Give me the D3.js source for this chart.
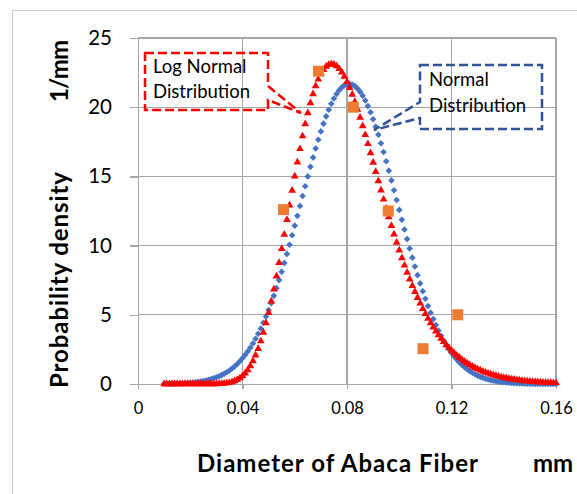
<!DOCTYPE html>
<html lang="en">
<head>
    <meta charset="UTF-8"/>
    <title>Abaca fiber diameter - probability density</title>
    <script src="https://d3js.org/d3.v7.min.js"></script>

    <style>
        body {
            margin: 0;
            background: #fff;
        }
        text {
            font-family: Lato, "Liberation Sans", sans-serif;
            fill: #000;
        }
        .grid line {
            stroke: #a6a6a6;
            stroke-width: 1.3px;
            shape-rendering: crispEdges;
        }
        .axis path,
        .axis line {
            stroke: #a6a6a6;
            stroke-width: 1.3px;
            shape-rendering: crispEdges;
        }
        .title {
            font-size: 24px;
            font-weight: bold;
        }
    </style>
</head>
<body>

<div id="chart"></div>

<script>
    // diameters (mm) where both fitted curves were sampled
    const diameters = d3.range(10, 161).map(function(k) { return k / 1000; });

    // normal distribution fit
    const normalDensity = [
        0.013, 0.016, 0.020, 0.024, 0.030, 0.036, 0.044, 0.053, 0.064, 0.077,
        0.092, 0.110, 0.131, 0.156, 0.185, 0.218, 0.257, 0.302, 0.353, 0.412,
        0.480, 0.557, 0.644, 0.743, 0.854, 0.979, 1.119, 1.276, 1.450, 1.643,
        1.856, 2.091, 2.348, 2.628, 2.934, 3.265, 3.627, 4.013, 4.427, 4.871,
        5.342, 5.843, 6.370, 6.927, 7.506, 8.113, 8.744, 9.392, 10.06, 10.75,
        11.44, 12.15, 12.86, 13.58, 14.29, 15.00, 15.69, 16.37, 17.02, 17.65,
        18.25, 18.81, 19.34, 19.82, 20.25, 20.63, 20.95, 21.22, 21.43, 21.58,
        21.66, 21.68, 21.63, 21.53, 21.35, 21.12, 20.83, 20.48, 20.08, 19.63,
        19.13, 18.59, 18.01, 17.40, 16.76, 16.10, 15.41, 14.71, 14.00, 13.29,
        12.58, 11.87, 11.16, 10.47, 9.791, 9.130, 8.485, 7.865, 7.269, 6.699,
        6.155, 5.639, 5.149, 4.689, 4.258, 3.855, 3.478, 3.131, 2.808, 2.513,
        2.242, 1.993, 1.768, 1.563, 1.378, 1.211, 1.061, 0.927, 0.808, 0.702,
        0.608, 0.525, 0.452, 0.388, 0.332, 0.283, 0.241, 0.204, 0.173, 0.146,
        0.123, 0.103, 0.086, 0.072, 0.059, 0.049, 0.041, 0.034, 0.028, 0.023,
        0.018, 0.015, 0.012, 0.010, 0.008, 0.006, 0.005, 0.004, 0.003, 0.003,
        0.002
    ];

    // log normal distribution fit
    const logNormalDensity = [
        0.000, 0.000, 0.000, 0.000, 0.000, 0.000, 0.000, 0.000, 0.000, 0.000,
        0.000, 0.000, 0.000, 0.000, 0.000, 0.000, 0.001, 0.001, 0.002, 0.005,
        0.008, 0.015, 0.025, 0.041, 0.064, 0.099, 0.147, 0.215, 0.306, 0.425,
        0.579, 0.774, 1.015, 1.308, 1.659, 2.072, 2.548, 3.097, 3.715, 4.401,
        5.153, 5.973, 6.850, 7.782, 8.759, 9.766, 10.81, 11.87, 12.92, 13.98,
        15.01, 16.02, 16.99, 17.91, 18.78, 19.58, 20.31, 20.96, 21.53, 22.01,
        22.41, 22.71, 22.94, 23.07, 23.12, 23.08, 22.98, 22.78, 22.53, 22.22,
        21.84, 21.40, 20.92, 20.40, 19.84, 19.25, 18.64, 18.00, 17.35, 16.69,
        16.01, 15.34, 14.67, 14.00, 13.34, 12.69, 12.06, 11.43, 10.82, 10.23,
        9.658, 9.107, 8.573, 8.064, 7.574, 7.105, 6.660, 6.235, 5.827, 5.443,
        5.079, 4.734, 4.409, 4.102, 3.815, 3.543, 3.288, 3.049, 2.825, 2.618,
        2.422, 2.238, 2.070, 1.910, 1.762, 1.626, 1.499, 1.381, 1.271, 1.169,
        1.076, 0.989, 0.909, 0.835, 0.767, 0.703, 0.644, 0.591, 0.542, 0.496,
        0.455, 0.416, 0.381, 0.348, 0.318, 0.291, 0.266, 0.243, 0.222, 0.203,
        0.185, 0.169, 0.154, 0.141, 0.128, 0.117, 0.107, 0.097, 0.089, 0.081,
        0.073
    ];

    // measured histogram (orange squares)
    const measuredDiameters = [0.0557, 0.0691, 0.0824, 0.0958, 0.1091, 0.1224];
    const measuredDensity = [12.6, 22.6, 20.0, 12.5, 2.55, 5.0];

    const xTicks = [0, 0.04, 0.08, 0.12, 0.16];
    const xTickLabels = ["0", "0.04", "0.08", "0.12", "0.16"];
    const yTicks = [0, 5, 10, 15, 20, 25];

    const margin = {top: 38, right: 21, bottom: 110, left: 138};
    const width = 577 - margin.left - margin.right;
    const height = 494 - margin.top - margin.bottom;

    const svg = d3.select("#chart")
        .append("svg")
        .attr("width", 577)
        .attr("height", 494);

    // chart area border
    svg.append("rect")
        .attr("x", 12.5).attr("y", 10.5)
        .attr("width", 620).attr("height", 520)
        .attr("fill", "none")
        .attr("stroke", "#c8c8c8");

    const g = svg.append("g")
        .attr("transform", "translate(" + margin.left + "," + margin.top + ")");

    const x = d3.scaleLinear().domain([0, 0.16]).range([0, width]);
    const y = d3.scaleLinear().domain([0, 25]).range([height, 0]);

    // gridlines
    const grid = g.append("g").attr("class", "grid");
    grid.selectAll(".h").data(yTicks.slice(1)).join("line")
        .attr("x1", 0).attr("x2", width)
        .attr("y1", function(d) { return y(d); })
        .attr("y2", function(d) { return y(d); });
    grid.selectAll(".v").data(xTicks.slice(1)).join("line")
        .attr("y1", 0).attr("y2", height)
        .attr("x1", function(d) { return x(d); })
        .attr("x2", function(d) { return x(d); });

    // X axis
    const xAxis = g.append("g")
        .attr("class", "axis")
        .attr("transform", "translate(0," + height + ")")
        .call(d3.axisBottom(x)
            .tickValues(xTicks)
            .tickFormat(function(d, i) { return xTickLabels[i]; })
            .tickSize(5)
            .tickSizeOuter(0)
            .tickPadding(13));
    xAxis.selectAll("text")
        .style("font-size", "16.5px");

    // Y axis
    const yAxis = g.append("g")
        .attr("class", "axis")
        .call(d3.axisLeft(y)
            .tickValues(yTicks)
            .tickSize(8)
            .tickSizeOuter(0)
            .tickPadding(18));
    yAxis.selectAll("text")
        .style("font-size", "20.5px");
    xAxis.attr("font-family", null);
    yAxis.attr("font-family", null);

    // normal distribution - blue diamonds
    const diamond = "M0,-3.3L3.3,0L0,3.3L-3.3,0Z";
    g.selectAll(".normal").data(diameters).join("path")
        .attr("class", "normal")
        .attr("d", diamond)
        .attr("transform", function(d, i) {
            return "translate(" + x(d) + "," + y(normalDensity[i]) + ")";
        })
        .attr("fill", "#4472c4");

    // log normal distribution - red triangles
    const triangle = d3.symbol().type(d3.symbolTriangle).size(26);
    g.selectAll(".lognormal").data(diameters).join("path")
        .attr("class", "lognormal")
        .attr("d", triangle)
        .attr("transform", function(d, i) {
            return "translate(" + x(d) + "," + y(logNormalDensity[i]) + ")";
        })
        .attr("fill", "#ff0000");

    // measured values - orange squares
    g.selectAll(".measured").data(measuredDiameters).join("rect")
        .attr("class", "measured")
        .attr("x", function(d) { return x(d) - 5.5; })
        .attr("y", function(d, i) { return y(measuredDensity[i]) - 5.5; })
        .attr("width", 11).attr("height", 11)
        .attr("fill", "#ed7d31");

    // callouts
    svg.append("path")
        .attr("d", "M145,53H268V86L301,113L268,100V110H145Z")
        .attr("fill", "none")
        .attr("stroke", "#ff0000").attr("stroke-width", 2.5)
        .attr("stroke-dasharray", "9,4");
    svg.append("text").attr("x", 153).attr("y", 73).text("Log Normal").style("font-size", "18.5px");
    svg.append("text").attr("x", 153).attr("y", 98).text("Distribution").style("font-size", "18.5px");

    svg.append("path")
        .attr("d", "M420,65H542V129H420V118L374,130L420,102Z")
        .attr("fill", "none")
        .attr("stroke", "#2f5597").attr("stroke-width", 2.5)
        .attr("stroke-dasharray", "9,4");
    svg.append("text").attr("x", 429).attr("y", 86).text("Normal").style("font-size", "18.5px");
    svg.append("text").attr("x", 429).attr("y", 112).text("Distribution").style("font-size", "18.5px");

    // axis titles
    svg.append("text")
        .attr("class", "title")
        .attr("transform", "translate(68,280) rotate(-90)")
        .attr("text-anchor", "middle")
        .attr("textLength", 216).attr("lengthAdjust", "spacing")
        .text("Probability density");
    svg.append("text")
        .attr("class", "title")
        .attr("transform", "translate(68,71) rotate(-90)")
        .attr("text-anchor", "middle")
        .attr("textLength", 62).attr("lengthAdjust", "spacing")
        .text("1/mm");
    svg.append("text")
        .attr("class", "title")
        .attr("x", 197).attr("y", 472)
        .attr("textLength", 281).attr("lengthAdjust", "spacing")
        .text("Diameter of Abaca Fiber");
    svg.append("text")
        .attr("class", "title")
        .attr("x", 533).attr("y", 472)
        .text("mm");
</script>
</body>
</html>
